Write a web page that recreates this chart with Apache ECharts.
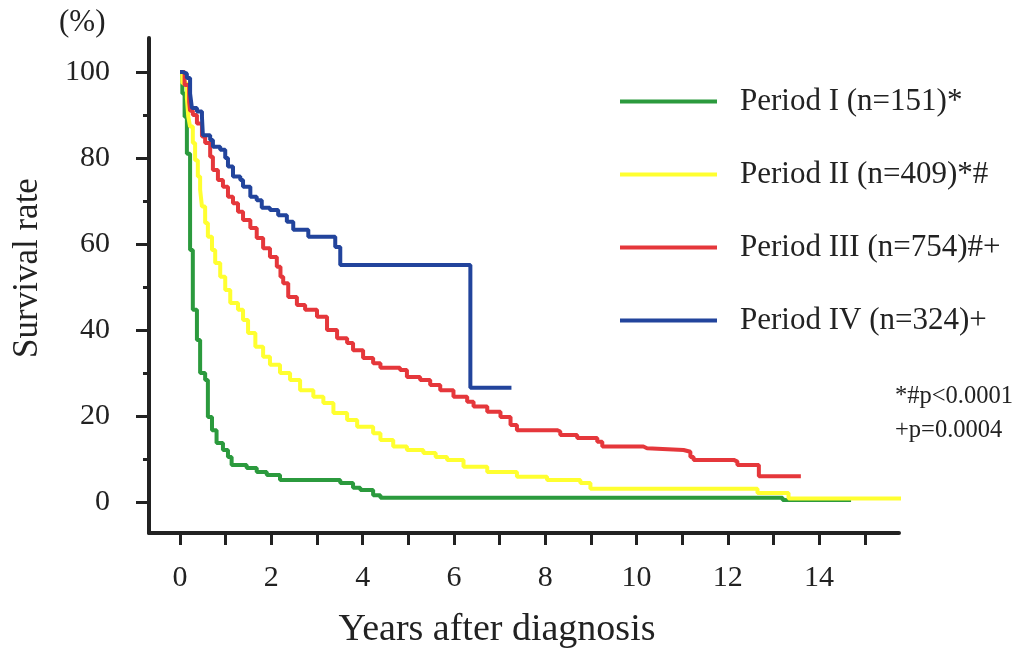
<!DOCTYPE html>
<html>
<head>
<meta charset="utf-8">
<script src="https://cdn.jsdelivr.net/npm/echarts@6/dist/echarts.min.js"></script>
<style>
  html, body { margin: 0; padding: 0; background: #fff; }
  #chart { width: 1015px; height: 652px; }
</style>
</head>
<body>
<div id="chart"></div>
<script>
// Kaplan-Meier steps: [years, survival %] (value after the drop at that time)
var periodI = [
  [0, 100], [0.05, 95], [0.1, 89.6], [0.15, 81], [0.22, 58.6], [0.28, 44.7], [0.37, 37.7],
  [0.44, 30], [0.55, 28.4], [0.61, 19.8], [0.7, 16.7], [0.8, 13.7], [0.94, 12.1], [1.05, 10.5],
  [1.13, 8.6], [1.46, 7.9], [1.68, 7.0], [1.9, 6.3], [2.19, 5.1], [3.51, 4.4], [3.79, 3.3],
  [3.95, 2.8], [4.23, 1.6], [4.39, 1.0], [13.2, 0.5], [14.7, 0.5]
];
var periodII = [
  [0, 100], [0.05, 97.4], [0.15, 94], [0.18, 89.6], [0.22, 87.3], [0.28, 83.5], [0.33, 79.5],
  [0.39, 75.7], [0.44, 72.6], [0.48, 68.7], [0.55, 64.9], [0.61, 61.7], [0.7, 58.6], [0.77, 55.6],
  [0.88, 52.4], [0.99, 49.3], [1.1, 46.3], [1.27, 44.7], [1.38, 42.3], [1.49, 39.3], [1.65, 36.1],
  [1.82, 33.8], [1.97, 31.9], [2.19, 30], [2.41, 28.4], [2.63, 26], [2.92, 24.5], [3.14, 23],
  [3.36, 20.7], [3.66, 19.1], [3.88, 17.5], [4.23, 16], [4.39, 14.4], [4.67, 12.9], [4.97, 12.1],
  [5.33, 11.4], [5.6, 10.5], [5.85, 9.8], [6.21, 8.2], [6.73, 7.0], [7.38, 5.9], [8.04, 5.1],
  [8.77, 4.4], [8.99, 3.1], [12.65, 2.1], [13.33, 0.8], [15.8, 0.8]
];
var periodIII = [
  [0, 100], [0.1, 97], [0.2, 93], [0.22, 91], [0.28, 90], [0.37, 88], [0.48, 85], [0.55, 83.5],
  [0.66, 80.3], [0.72, 77.2], [0.83, 74.9], [0.94, 73.3], [1.05, 71], [1.16, 69.5], [1.27, 67.5],
  [1.38, 65.6], [1.54, 63.7], [1.68, 61.4], [1.82, 59], [1.97, 57], [2.12, 54.7], [2.2, 52.4],
  [2.26, 50.9], [2.37, 47.7], [2.56, 45.8], [2.74, 44.7], [3.0, 43.1], [3.22, 40], [3.44, 38.1],
  [3.66, 37], [3.79, 35.3], [4.01, 33.5], [4.23, 32.3], [4.39, 31.2], [4.82, 30.7], [4.97, 29.1],
  [5.26, 28.4], [5.48, 27.2], [5.7, 26], [5.99, 24.5], [6.29, 23.3], [6.43, 22.2], [6.73, 21],
  [7.02, 19.8], [7.24, 17.9], [7.38, 16.7], [8.26, 16.4], [8.33, 15.6], [8.7, 14.9], [9.14, 14],
  [9.25, 12.9], [10.15, 12.5], [10.23, 12.1], [11.03, 11.7], [11.18, 10.5], [11.25, 9.8],
  [12.13, 9.4], [12.21, 8.6], [12.68, 6.0], [13.6, 6.0]
];
var periodIV = [
  [0, 100], [0.06, 99.6], [0.15, 98.6], [0.22, 95], [0.26, 91.6], [0.37, 90.8], [0.48, 89.5],
  [0.5, 85.3], [0.66, 84.2], [0.72, 82.6], [0.88, 81.9], [0.99, 80], [1.05, 78], [1.16, 75.7],
  [1.32, 74.9], [1.38, 73.3], [1.54, 71], [1.68, 70.2], [1.79, 68.4], [1.97, 67.9], [2.15, 66.7],
  [2.34, 65.2], [2.48, 63.3], [2.81, 61.7], [3.4, 59.3], [3.51, 55.1], [6.36, 26.6], [7.26, 26.6]
];

var seriesNames = ['Period I (n=151)*', 'Period II (n=409)*#', 'Period III (n=754)#+', 'Period IV (n=324)+'];
var seriesColors = ['#2b9a3d', '#ffff30', '#e5373b', '#22449c'];
var xTicks = [0, 1, 2, 3, 4, 5, 6, 7, 8, 9, 10, 11, 12, 13, 14, 15];
var xLabels = [0, 2, 4, 6, 8, 10, 12, 14];
var yTicks = [0, 20, 40, 60, 80, 100];
var yMinorTicks = [10, 30, 50, 70, 90];

var serif = '"Liberation Serif", "DejaVu Serif", serif';
var axisColor = '#222';

var chart = echarts.init(document.getElementById('chart'));

var seriesData = [periodI, periodII, periodIII, periodIV];
var series = seriesData.map(function (d, i) {
  return {
    name: seriesNames[i],
    type: 'line',
    step: 'end',
    data: d,
    showSymbol: false,
    symbol: 'none',
    z: 2 + i,
    lineStyle: { color: seriesColors[i], width: 4 },
    itemStyle: { color: seriesColors[i] }
  }
});

var option = {
  animation: false,
  backgroundColor: '#fff',
  grid: { left: 149, top: 38, width: 750, height: 495, containLabel: false },
  legend: {
    orient: 'vertical',
    left: 615,
    top: 81,
    icon: 'rect',
    itemWidth: 97,
    itemHeight: 4,
    itemGap: 42,
    data: seriesNames,
    textStyle: {
      fontFamily: serif,
      fontSize: 31,
      color: axisColor,
      lineHeight: 30,
      padding: [0, 0, 0, 18]
    }
  },
  xAxis: {
    type: 'value',
    min: -0.68,
    max: 15.75,
    splitLine: { show: false },
    axisLine: { onZero: false, lineStyle: { color: axisColor, width: 4 } },
    axisTick: { customValues: xTicks, length: 12, lineStyle: { color: axisColor, width: 3 } },
    axisLabel: {
      customValues: xLabels,
      margin: 30,
      fontFamily: serif,
      fontSize: 30,
      color: axisColor
    }
  },
  yAxis: [{
    type: 'value',
    min: -7.2,
    max: 107.9,
    splitLine: { show: false },
    axisLine: { show: true, onZero: false, lineStyle: { color: axisColor, width: 4 } },
    axisTick: { show: true, customValues: yTicks, length: 13, lineStyle: { color: axisColor, width: 3 } },
    axisLabel: {
      customValues: yTicks,
      margin: 39,
      fontFamily: serif,
      fontSize: 30,
      color: axisColor
    }
  }, {
    type: 'value',
    position: 'left',
    offset: 0,
    min: -7.2,
    max: 107.9,
    splitLine: { show: false },
    axisLine: { show: false, onZero: false },
    axisTick: { show: true, customValues: yMinorTicks, length: 6, lineStyle: { color: axisColor, width: 3 } },
    axisLabel: { show: false }
  }],
  graphic: [{
    type: 'text',
    left: 59,
    top: 7,
    style: { text: '(%)', font: '31px ' + serif, fill: axisColor }
  }, {
    type: 'text',
    x: 28,
    y: 268,
    rotation: Math.PI / 2,
    style: {
      text: 'Survival rate',
      font: '35px ' + serif,
      fill: axisColor,
      align: 'center',
      verticalAlign: 'middle'
    }
  }, {
    type: 'text',
    x: 497,
    y: 630,
    style: {
      text: 'Years after diagnosis',
      font: '38px ' + serif,
      fill: axisColor,
      align: 'center',
      verticalAlign: 'middle'
    }
  }, {
    type: 'text',
    left: 895,
    top: 380,
    style: {
      text: '*#p<0.0001\n+p=0.0004',
      font: '24.5px ' + serif,
      lineHeight: 34,
      fill: axisColor
    }
  }],
  series: series
};

chart.setOption(option);
</script>
</body>
</html>
